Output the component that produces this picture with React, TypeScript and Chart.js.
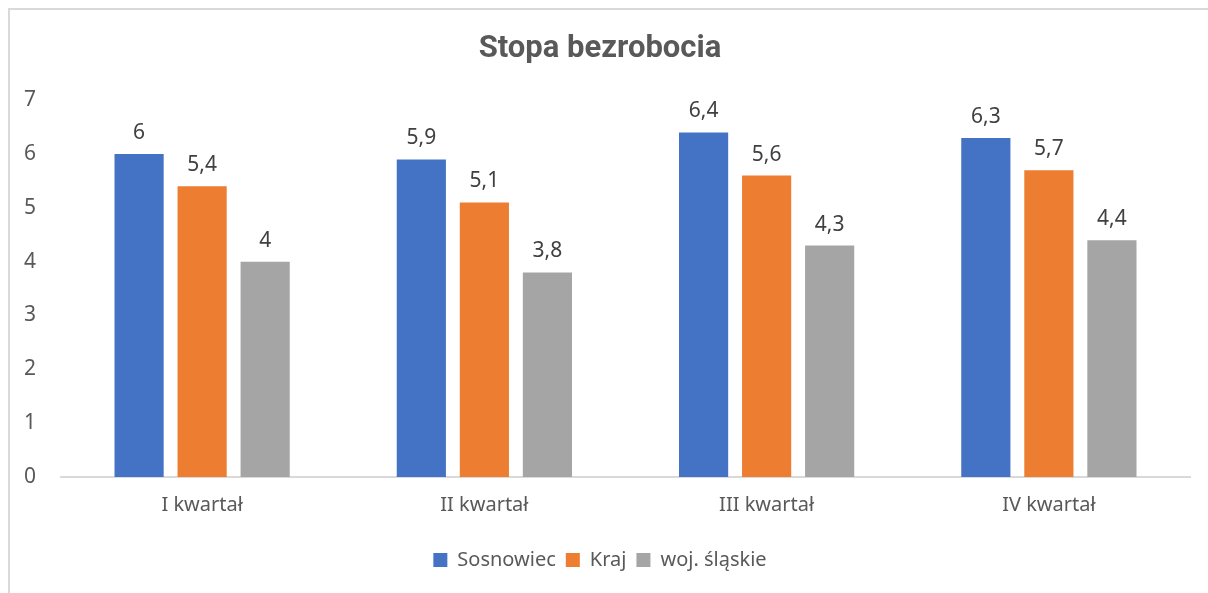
import React, { useEffect, useRef } from "react";
import { Chart, registerables } from "chart.js";

Chart.register(...registerables);

const categories = ["I kwartał", "II kwartał", "III kwartał", "IV kwartał"];
const sosnowiec = [6, 5.9, 6.4, 6.3];
const kraj = [5.4, 5.1, 5.6, 5.7];
const slaskie = [4, 3.8, 4.3, 4.4];
const seriesNames = ["Sosnowiec", "Kraj", "woj. śląskie"];
const yTicks = [0, 1, 2, 3, 4, 5, 6, 7];

const FONT = "'Noto Sans', 'Open Sans', sans-serif";

const dataLabelPlugin = {
  id: "dataLabels",
  afterDatasetsDraw(chart: any) {
    const ctx = chart.ctx;
    ctx.save();
    ctx.font = `21px ${FONT}`;
    ctx.fillStyle = "#404040";
    ctx.textAlign = "center";
    ctx.textBaseline = "alphabetic";
    chart.data.datasets.forEach((ds: any, i: number) => {
      const meta = chart.getDatasetMeta(i);
      meta.data.forEach((bar: any, j: number) => {
        const v = ds.data[j];
        const txt = String(v).replace(".", ",");
        ctx.fillText(txt, bar.x, bar.y - 15);
      });
    });
    ctx.restore();
  },
};

export default function App() {
  const ref = useRef<HTMLCanvasElement>(null);
  useEffect(() => {
    document.documentElement.style.overflow = "hidden";
    document.body.style.overflow = "hidden";
    const chart = new Chart(ref.current!, {
      type: "bar",
      data: {
        labels: categories,
        datasets: [
          { label: seriesNames[0], data: sosnowiec, backgroundColor: "#4472C4" },
          { label: seriesNames[1], data: kraj, backgroundColor: "#ED7D31" },
          { label: seriesNames[2], data: slaskie, backgroundColor: "#A5A5A5" },
        ],
      },
      options: {
        animation: false,
        responsive: false,
        maintainAspectRatio: false,
        datasets: {
          bar: { categoryPercentage: 0.67, barPercentage: 0.78 },
        },
        layout: { padding: { top: 0, left: 0, right: 20, bottom: 15 } },
        plugins: {
          title: {
            display: true,
            text: "Stopa bezrobocia",
            color: "#595959",
            font: { family: "Roboto, 'Noto Sans', sans-serif", size: 31, weight: "bold" },
            padding: { top: 21, bottom: 32 },
          },
          legend: {
            display: true,
            position: "bottom",
            labels: {
              color: "#595959",
              font: { family: FONT, size: 20 },
              boxWidth: 14,
              boxHeight: 14,
              padding: 10,
            },
          },
          tooltip: { enabled: false },
        },
        scales: {
          x: {
            grid: { display: false, drawTicks: false },
            border: { display: true, color: "#D9D9D9", width: 2 },
            ticks: { color: "#595959", font: { family: FONT, size: 20 }, padding: 16 },
            afterFit: (s: any) => {
              s.height = 63;
            },
          },
          y: {
            min: 0,
            max: 7,
            grid: { display: false, drawTicks: false },
            border: { display: false },
            afterBuildTicks: (s: any) => {
              s.ticks = yTicks.map((v) => ({ value: v }));
            },
            ticks: {
              color: "#595959",
              font: { family: FONT, size: 21 },
              padding: 25,
              stepSize: 1,
            },
            afterFit: (s: any) => {
              s.width = 51;
            },
          },
        },
      },
      plugins: [dataLabelPlugin],
    });
    return () => chart.destroy();
  }, []);
  return (
    <div
      style={{
        position: "absolute",
        left: 8,
        top: 8,
        width: 1220,
        height: 600,
        borderTop: "2px solid #D9D9D9",
        borderLeft: "2px solid #D9D9D9",
        background: "#fff",
      }}
    >
      <canvas ref={ref} width={1200} height={585} style={{ display: "block" }} />
    </div>
  );
}
